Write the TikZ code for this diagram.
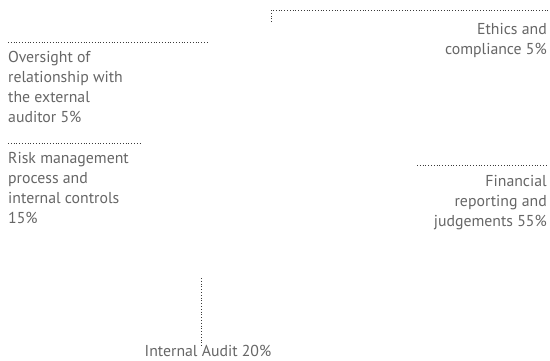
\documentclass[tikz,border=0pt]{standalone}
\usepackage{fontspec}
\setmainfont{PT Sans}
\usetikzlibrary{positioning}
\definecolor{labelgrey}{HTML}{666666}
\definecolor{dotgrey}{HTML}{3A3A3A}

\begin{document}
\begin{tikzpicture}[x=1pt,y=-1pt,
  leader/.style={dotgrey,line width=0.8pt,dash pattern=on 0.8pt off 2pt},
  lbl/.style={inner sep=0pt,text=labelgrey,font=\fontsize{15.8}{20}\selectfont}]
  \useasboundingbox (0,0) rectangle (550,360);

  % ethics
  \node[lbl,anchor=north east,align=right] (ethics) at (547,23) {Ethics and\\compliance 5\%};
  \coordinate (ethtip) at (271,22);
  \coordinate (ethbend) at (271,10);
  \coordinate (ethend) at (548,10);
  \draw[leader] (ethtip) -- (ethbend) -- (ethend);

  % oversight
  \node[lbl,anchor=north west,align=left] (oversight) at (8,51) {Oversight of\\relationship with\\the external\\auditor 5\%};
  \coordinate (overstart) at (8,42);
  \coordinate (overend) at (208,42);
  \draw[leader] (overstart) -- (overend);

  % risk
  \node[lbl,anchor=north west,align=left] (risk) at (8,152) {Risk management\\process and\\internal controls\\15\%};
  \coordinate (riskstart) at (8,143);
  \coordinate (riskend) at (142,143);
  \draw[leader] (riskstart) -- (riskend);

  % financial
  \node[lbl,anchor=north east,align=right] (financial) at (547,175) {Financial\\reporting and\\judgements 55\%};
  \coordinate (finstart) at (417,165);
  \coordinate (finend) at (548,165);
  \draw[leader] (finstart) -- (finend);

  % internal audit
  \node[lbl,anchor=north] (audit) at (208,345) {Internal Audit 20\%};
  \coordinate (audtop) at (201.5,278);
  \coordinate (audbot) at (201.5,347);
  \draw[leader] (audtop) -- (audbot);
\end{tikzpicture}
\end{document}
